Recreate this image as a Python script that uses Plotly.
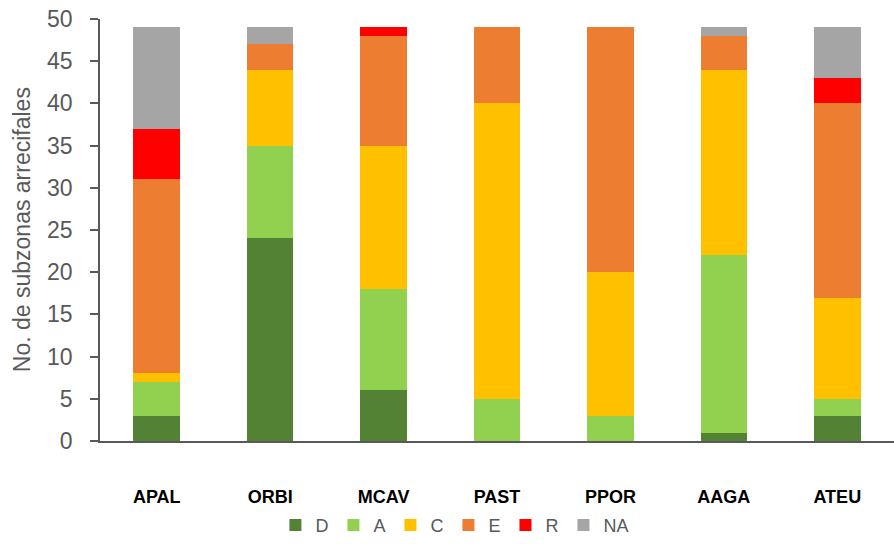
import plotly.graph_objects as go

species = ["APAL", "ORBI", "MCAV", "PAST", "PPOR", "AAGA", "ATEU"]
cat_D = [3, 24, 6, 0, 0, 1, 3]
cat_A = [4, 11, 12, 5, 3, 21, 2]
cat_C = [1, 9, 17, 35, 17, 22, 12]
cat_E = [23, 3, 13, 9, 29, 4, 23]
cat_R = [6, 0, 1, 0, 0, 0, 3]
cat_NA = [12, 2, 0, 0, 0, 1, 6]

series = [
    ("D", cat_D, "#548235"),
    ("A", cat_A, "#92D050"),
    ("C", cat_C, "#FFC000"),
    ("E", cat_E, "#ED7D31"),
    ("R", cat_R, "#FF0000"),
    ("NA", cat_NA, "#A5A5A5"),
]

fig = go.Figure()
for name, vals, color in series:
    fig.add_trace(go.Bar(
        x=species, y=vals, name=name,
        marker=dict(color=color, line=dict(width=0)),
    ))

fig.update_layout(
    barmode="stack",
    bargap=0.59,
    width=894, height=544,
    margin=dict(l=100, r=0, t=19, b=103),
    plot_bgcolor="white", paper_bgcolor="white",
    font=dict(family="Liberation Sans, Arial, sans-serif", color="#595959"),
    showlegend=True,
    legend=dict(
        orientation="h", x=0.447, xanchor="center", y=-0.20, yanchor="middle",
        font=dict(size=18, color="#595959"),
        itemwidth=30, traceorder="normal",
    ),
    xaxis=dict(
        showline=True, linecolor="#595959", linewidth=2,
        ticks="", tickfont=dict(size=18, color="black", family="Liberation Sans, Arial, sans-serif", weight="bold"),
        ticklabelstandoff=38,
    ),
    yaxis=dict(
        range=[0, 50], dtick=5,
        showline=True, linecolor="#595959", linewidth=2,
        ticks="outside", ticklen=8, tickwidth=2, tickcolor="#595959",
        showgrid=False, zeroline=False,
        ticksuffix="\u00a0\u00a0",
        tickfont=dict(size=23, color="#595959"),
    ),
    annotations=[dict(
        text="No. de subzonas arrecifales",
        xref="paper", yref="paper", x=-0.098, y=0.5,
        xanchor="center", yanchor="middle", textangle=-90, showarrow=False,
        font=dict(size=23, color="#595959"),
    )],
)

fig.write_html("out.html")
